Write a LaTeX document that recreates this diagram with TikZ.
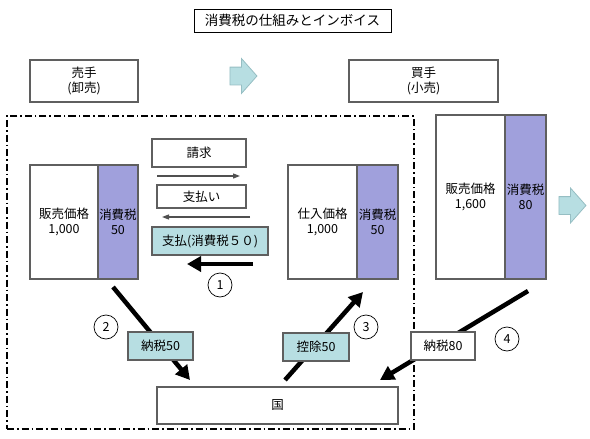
\documentclass[tikz,border=0pt]{standalone}
\usepackage{fontspec}
\setmainfont{Noto Sans CJK JP}
\usetikzlibrary{arrows.meta,shapes.arrows}
\begin{document}
\begin{tikzpicture}[x=1pt,y=-1pt,
  every node/.style={outer sep=0pt, inner sep=0pt, align=center, font=\fontsize{12.5}{14.5}\selectfont},
  box/.style={draw={rgb,255:red,95;green,95;blue,95}, line width=1.1pt, fill=white},
  taxbox/.style={box, fill={rgb,255:red,160;green,160;blue,220}},
  tagbox/.style={box, minimum height=28pt, fill={rgb,255:red,183;green,222;blue,226}},
  circnum/.style={draw, circle, minimum size=24pt, line width=0.7pt},
  flowline/.style={draw={rgb,255:red,80;green,80;blue,80}, line width=1.2pt, -{Triangle[length=7pt,width=5pt]}},
  taxarrow/.style={line width=4.5pt, -{Triangle[length=14pt,width=15pt]}},
  flow/.style={shape=single arrow, draw={rgb,255:red,150;green,190;blue,195}, line width=0.8pt, fill={rgb,255:red,183;green,222;blue,226}, minimum height=27pt, inner xsep=0pt, inner ysep=8.5pt, single arrow head extend=8.5pt, single arrow tip angle=97}]
\useasboundingbox (0,0) rectangle (590,439);
\node[draw, line width=0.8pt, minimum width=197pt, minimum height=23pt, font=\fontsize{13.5}{16}\selectfont] (title) at (292.5,20.5) {消費税の仕組みとインボイス};
\node[box, minimum width=108pt, minimum height=42pt] (seller) at (84,81) {売手\\(卸売)};
\node[box, minimum width=149pt, minimum height=42pt] (buyer) at (423.5,81) {買手\\(小売)};
\node[flow] (flowa) at (239.5,76) {};
\node[flow] (flowb) at (568.5,205.5) {};
\node[draw, line width=1.2pt, dash pattern=on 7pt off 3pt on 1.5pt off 3pt, minimum width=407pt, minimum height=313pt] (sellerarea) at (210.5,272.5) {};
\node[box, minimum width=68pt, minimum height=114pt] (sellprice) at (64,222) {販売価格\\1,000};
\node[taxbox, minimum width=40pt, minimum height=114pt, anchor=west] (selltax) at (sellprice.east) {消費税\\50};
\node[box, minimum width=69pt, minimum height=114pt] (buyprice) at (322.5,222) {仕入価格\\1,000};
\node[taxbox, minimum width=41pt, minimum height=114pt, anchor=west] (buytax) at (buyprice.east) {消費税\\50};
\node[box, minimum width=69pt, minimum height=164pt] (retailprice) at (470.5,197) {販売価格\\1,600};
\node[taxbox, minimum width=41pt, minimum height=164pt, anchor=west] (retailtax) at (retailprice.east) {消費税\\80};
\node[box, minimum width=94pt, minimum height=28pt] (invoice) at (199,153) {請求};
\node[box, minimum width=89pt, minimum height=23pt] (payment) at (201.5,196.5) {支払い};
\node[tagbox, minimum width=116pt] (paytax) at (210,241) {支払(消費税５０)};
\coordinate (ia) at (157,176);
\coordinate (ib) at (240,176);
\coordinate (pa) at (250,217);
\coordinate (pb) at (162,217);
\coordinate (ta) at (253,264);
\coordinate (tb) at (187,264);
\coordinate (na) at (113,287);
\coordinate (nb) at (190,380);
\coordinate (ka) at (285,380);
\coordinate (kb) at (363,292);
\coordinate (ra) at (528,291);
\coordinate (rb) at (380,380);
\draw[flowline] (ia) -- (ib);
\draw[flowline] (pa) -- (pb);
\draw[taxarrow] (ta) -- (tb);
\draw[taxarrow] (na) -- (nb);
\draw[taxarrow] (ka) -- (kb);
\draw[taxarrow] (ra) -- (rb);
\node[circnum] (one) at (220,285) {1};
\node[circnum] (two) at (106,327) {2};
\node[circnum] (three) at (366,327) {3};
\node[circnum] (four) at (507,339) {4};
\node[tagbox, minimum width=65pt] (paid50) at (160.5,346) {納税50};
\node[tagbox, minimum width=66pt] (credit50) at (316,347) {控除50};
\node[box, minimum width=64pt, minimum height=28pt] (paid80) at (443,346) {納税80};
\node[box, minimum width=241pt, minimum height=37pt] (state) at (277.5,405.5) {国};
\end{tikzpicture}
\end{document}
